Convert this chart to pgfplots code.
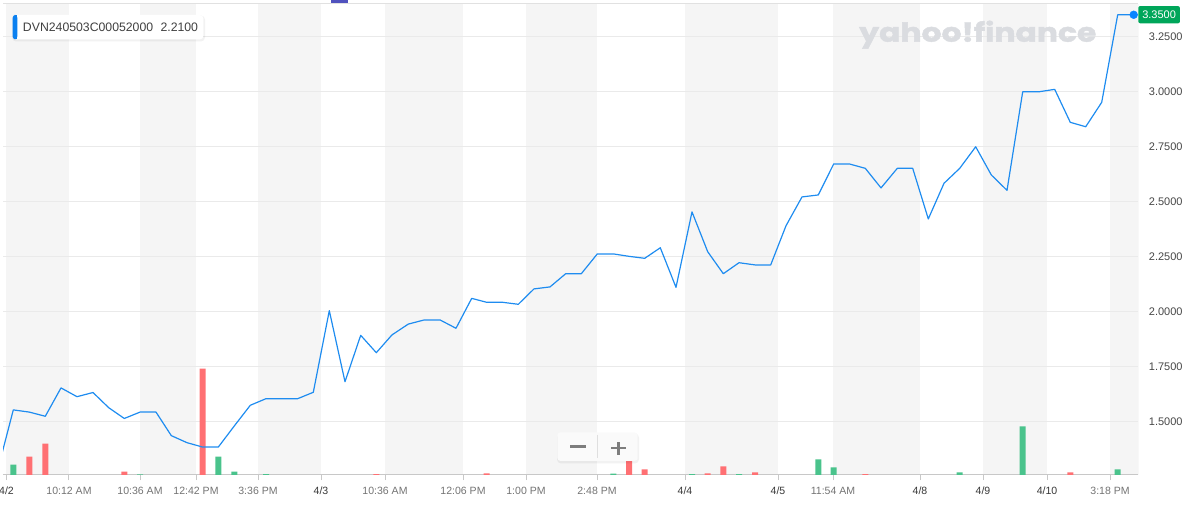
\documentclass[border=0pt]{standalone}
\usepackage{pgfplots}
\pgfplotsset{compat=1.18}
\usepackage{fontspec}
\setmainfont{Liberation Sans}
\newfontfamily\wmfont{Poppins}[BoldFeatures={FakeBold=1.6}]
\definecolor{bandgray}{RGB}{245,245,245}
\definecolor{gridgray}{RGB}{234,234,234}
\definecolor{axisgray}{RGB}{200,200,200}
\definecolor{topgray}{RGB}{225,225,225}
\definecolor{ylabcol}{RGB}{70,70,70}
\definecolor{xlabcol}{RGB}{115,115,115}
\definecolor{datecol}{RGB}{55,55,55}
\definecolor{linecol}{RGB}{30,140,240}
\definecolor{dotcol}{RGB}{10,132,255}
\definecolor{boxgreen}{RGB}{0,166,90}
\definecolor{volred}{RGB}{255,112,115}
\definecolor{volgreen}{RGB}{74,195,140}
\definecolor{wmcol}{RGB}{218,220,224}
\definecolor{legtext}{RGB}{64,64,64}
\definecolor{legblue}{RGB}{11,128,240}
\definecolor{indigo}{RGB}{80,82,190}
\definecolor{symgray}{RGB}{125,125,125}
\newcommand\xlabfont{\fontsize{7.9pt}{9pt}\selectfont}
\newcommand\ylabfont{\fontsize{8.25pt}{10pt}\selectfont}
\newcommand\legfont{\fontsize{9.2pt}{11pt}\selectfont}
\pgfplotsset{
  geom/.style={at={(2.25pt,25.5pt)}, anchor=south west, scale only axis,
    width=851.25pt, height=353.25pt, xmin=3, xmax=1138},
}
\begin{document}
\begin{tikzpicture}
\useasboundingbox (0,0) rectangle (889.5pt,381.75pt);
% ---------- frame axis: bands, grid, ticks, labels
\begin{axis}[geom,
  ymin=1.2591, ymax=3.40,
  axis on top,
  axis line style={draw=none},
  xtick={6.5,69,140,196,258,321,385,463,526,597,685,778,833,920,983,1047,1110},
  xticklabels={\textcolor{datecol}{4/2},10:12 AM,10:36 AM,12:42 PM,3:36 PM,\textcolor{datecol}{4/3},10:36 AM,12:06 PM,1:00 PM,2:48 PM,\textcolor{datecol}{4/4},\textcolor{datecol}{4/5},11:54 AM,\textcolor{datecol}{4/8},\textcolor{datecol}{4/9},\textcolor{datecol}{4/10},3:18 PM},
  xtick pos=bottom, tick align=outside,
  major tick length=4.1pt,
  xtick style={draw=axisgray, line width=0.75pt},
  ytick={1.5,1.75,2,2.25,2.5,2.75,3,3.25},
  ytick pos=right, yticklabel pos=right,
  ytick style={draw=none},
  ymajorgrids, major grid style={draw=gridgray, line width=0.75pt},
  yticklabel style={font=\ylabfont, text=ylabcol, anchor=west, inner sep=0pt, xshift=3.9pt},
  xticklabel style={font=\xlabfont, text=xlabcol, inner sep=0pt, anchor=north, yshift=-4.6pt},
  /pgf/number format/.cd, fixed, fixed zerofill, precision=4, assume math mode=true,
]
\fill[bandgray] (axis cs:6.5,1.2591) rectangle (axis cs:69,3.40);
\fill[bandgray] (axis cs:140,1.2591) rectangle (axis cs:196,3.40);
\fill[bandgray] (axis cs:258,1.2591) rectangle (axis cs:321,3.40);
\fill[bandgray] (axis cs:385,1.2591) rectangle (axis cs:463,3.40);
\fill[bandgray] (axis cs:526,1.2591) rectangle (axis cs:597,3.40);
\fill[bandgray] (axis cs:685,1.2591) rectangle (axis cs:778,3.40);
\fill[bandgray] (axis cs:833,1.2591) rectangle (axis cs:920,3.40);
\fill[bandgray] (axis cs:983,1.2591) rectangle (axis cs:1047,3.40);
\fill[bandgray] (axis cs:1110,1.2591) rectangle (axis cs:1138,3.40);
\draw[topgray, line width=0.75pt] (axis cs:3,3.40) -- (axis cs:1138,3.40);
\draw[axisgray, line width=0.75pt] (axis cs:3,1.2591) -- (axis cs:1138,1.2591) -- (axis cs:1138,3.40);
\end{axis}
% ---------- volume axis
\begin{axis}[geom, ymin=0, ymax=471, hide axis, ybar, bar width=4.5pt, bar shift=0pt]
\addplot[fill=volred, draw=none] coordinates {
 (29.3,18.3) (45.3,31.3) (124.3,3.3) (202.7,106.3) (376.3,0.8) (486.7,1.5)
 (629,14.7) (644.7,5.7) (707.7,1.7) (723.3,8.7) (755,2.7) (865.3,0.8) (1070.3,2.7)};
\addplot[fill=volgreen, draw=none] coordinates {
 (13.3,10.3) (140,0.7) (218.3,18.3) (234.3,3.3) (266,0.8) (613.3,1.3) (692,0.8)
 (739,0.8) (818.3,15.7) (833.7,7.7) (959.7,2.7) (1022.7,48.7) (1117.7,5.7)};
\end{axis}
% ---------- price line axis
\begin{axis}[geom, ymin=1.2591, ymax=3.40, hide axis]
\addplot[linecol, line width=0.9pt, mark=none, line join=round] coordinates {
(-2.4,1.280) (13.3,1.555) (29.3,1.545) (45.3,1.526) (61,1.655) (77,1.615) (93,1.634)
(108.7,1.565) (124.3,1.516) (140,1.545) (156,1.545) (171.3,1.438) (187,1.406)
(202.7,1.386) (218.3,1.386) (234.3,1.482) (250.3,1.576) (266,1.606) (281.7,1.606)
(297.7,1.606) (313.3,1.635) (329.3,2.006) (345,1.683) (360.7,1.894) (376.3,1.815)
(392,1.896) (408.3,1.945) (424.3,1.964) (440,1.964) (456,1.926) (471.7,2.062)
(486.7,2.044) (502.7,2.044) (518.3,2.035) (534,2.105) (550,2.114) (565.7,2.174)
(581.3,2.174) (597.3,2.264) (613.3,2.264) (629,2.253) (644.7,2.244) (660.3,2.292)
(676,2.112) (692,2.455) (707.7,2.274) (723.3,2.174) (739,2.224) (755,2.214)
(770.7,2.214) (786,2.392) (802,2.523) (818.3,2.532) (833.7,2.673) (849.3,2.673)
(865.3,2.653) (881,2.564) (897.3,2.653) (912.7,2.653) (928.3,2.423) (944,2.585)
(959.7,2.653) (975.7,2.751) (991.3,2.623) (1007,2.553) (1022.7,3.001) (1039,3.001)
(1054.7,3.012) (1070.3,2.862) (1085.7,2.842) (1101.7,2.953) (1117.7,3.351) (1133.7,3.351)};
\addplot[only marks, mark=*, mark size=2.9pt, mark options={fill=dotcol, draw=dotcol}] coordinates {(1133.7,3.351)};
\end{axis}
% ---------- decorations (pixel coordinates from the top-left corner)
\begin{scope}[yshift=381.75pt, x=0.75pt, y=-0.75pt]
\fill[indigo] (331,0) rectangle (348,3.5);
% legend box
\fill[black, opacity=0.05, rounded corners=3pt] (12,15.5) rectangle (205,41.5);
\fill[white, rounded corners=2.5pt] (12.7,15) rectangle (203.3,39.3);
\fill[legblue, rounded corners=2pt] (12.7,15) rectangle (17.3,39.3);
\fill[legblue] (15,15) rectangle (17.3,39.3);
\node[anchor=base west, inner sep=0pt, text=legtext, font=\legfont] at (22.7,31.7) {DVN240503C00052000\hspace{5.5pt}2.2100};
% watermark
\node[anchor=base west, inner sep=0pt, text=wmcol] at (859,41.7) {\resizebox{177.75pt}{15.75pt}{\wmfont\bfseries yahoo!finance}};
% last price box
\node[anchor=west, fill=boxgreen, text=white, font=\ylabfont, rounded corners=1.5pt, inner xsep=3pt, inner ysep=0pt, minimum height=13pt] at (1138,14.7) {3.3500};
% zoom control
\fill[black, opacity=0.05, rounded corners=3pt] (557,433.5) rectangle (639,463.5);
\fill[white!98!black, rounded corners=2.5pt] (557.3,432.3) rectangle (637.7,461);
\draw[gray!25, line width=0.75pt] (597.7,435) -- (597.7,457.7);
\fill[symgray] (570,445.5) rectangle (585.7,448);
\fill[symgray] (611,446.8) rectangle (626,449.3);
\fill[symgray] (617.3,442) rectangle (619.8,454.7);
\end{scope}
\end{tikzpicture}
\end{document}
